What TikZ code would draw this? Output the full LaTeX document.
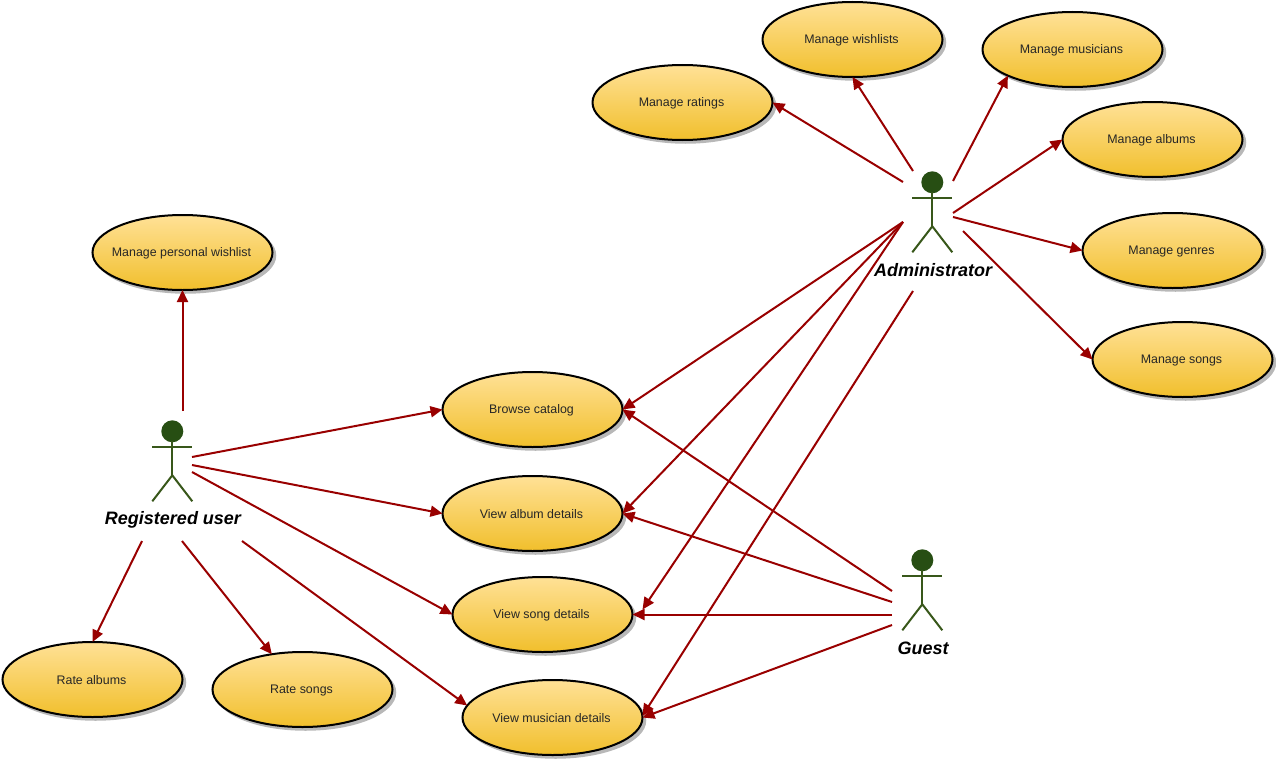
\documentclass[tikz,border=0pt]{standalone}
\usepackage{fontspec}
\setmainfont{Liberation Sans}
\usetikzlibrary{shapes.geometric,arrows.meta}
\definecolor{uctop}{HTML}{FFE196}
\definecolor{ucbot}{HTML}{F1BF2C}
\definecolor{headc}{HTML}{274E13}
\definecolor{bodyc}{HTML}{38571A}
\definecolor{linkc}{HTML}{990000}
\tikzset{
  usecase/.style={ellipse,minimum width=180pt,minimum height=75pt,inner sep=0pt,outer sep=0pt,
    draw=black,line width=2pt,top color=uctop,bottom color=ucbot,shading angle=0},
  uctext/.style={font=\fontsize{12.4}{14}\selectfont,text=black!85,inner sep=0pt},
  shade/.style={ellipse,minimum width=180pt,minimum height=75pt,inner sep=0pt,fill=black!28,draw=black!28,line width=1.5pt},
  link/.style={draw=linkc,line width=2pt,-{Triangle[length=12pt,width=11pt]},shorten >=0pt},
  actorlabel/.style={font=\fontsize{18}{20}\selectfont\bfseries\itshape,text=black,inner sep=0pt},
  limb/.style={draw=bodyc,line width=2pt},
  headdot/.style={circle,fill=headc,minimum size=22pt,inner sep=0pt,draw=none}
}
\newcommand{\usecase}[4]{%
  \node[shade] at (#1+3,#2+3) {};
  \node[usecase] (#3) at (#1,#2) {};
  \node[uctext] (#3text) at (#1-1,#2+1) {#4};}
\newcommand{\actor}[5]{%
  \node[headdot] (#3head) at (#1,#2) {};
  \draw[limb] (#1-20,#2+16) -- (#1+20,#2+16);
  \draw[limb] (#1,#2+10) -- (#1,#2+44);
  \draw[limb] (#1-20,#2+70) -- (#1,#2+44) -- (#1+20,#2+70);
  \node[actorlabel] (#3label) at (#1+0.7,#2+#5) {#4};}
\begin{document}
\begin{tikzpicture}[x=1pt,y=-1pt]
\useasboundingbox (0,0) rectangle (1276,760);
\usecase{682.5}{102.5}{ratings}{Manage ratings}
\usecase{852.5}{39.5}{wishlists}{Manage wishlists}
\usecase{1072.5}{49.5}{musicians}{Manage musicians}
\usecase{1152.5}{139.5}{albums}{Manage albums}
\usecase{1172.5}{250.5}{genres}{Manage genres}
\usecase{1182.5}{359.5}{songs}{Manage songs}
\usecase{182.5}{252.5}{personal}{Manage personal wishlist}
\usecase{532.5}{409.5}{browse}{Browse catalog}
\usecase{532.5}{513.5}{albumd}{View album details}
\usecase{542.5}{614.5}{songd}{View song details}
\usecase{552.5}{717.5}{musiciand}{View musician details}
\usecase{92.5}{679.5}{ratea}{Rate albums}
\usecase{302.5}{689.5}{rates}{Rate songs}
\actor{932.3}{182.3}{admin}{Administrator}{88}
\actor{172.3}{431.3}{reg}{Registered user}{88.5}
\actor{922.3}{560.3}{guest}{Guest}{88}
\coordinate (a1) at (903,182);
\coordinate (a2) at (913,171);
\coordinate (a3) at (953,181);
\coordinate (a4) at (953,213);
\coordinate (a5) at (953,217);
\coordinate (a6) at (963,231);
\coordinate (a7) at (903,222);
\coordinate (a8) at (913,291);
\coordinate (r1) at (182.5,411);
\coordinate (r2) at (192,457);
\coordinate (r3) at (192,465);
\coordinate (r4) at (192,472);
\coordinate (r5) at (142,541);
\coordinate (r6) at (182,541);
\coordinate (r7) at (242,541);
\coordinate (g1) at (892,591);
\coordinate (g2) at (892,602);
\coordinate (g3) at (892,614.5);
\coordinate (g4) at (892,625);
\coordinate (songtip) at ([shift={(10,-5)}]songd.east);
\draw[link] (a1) -- (ratings.east);
\draw[link] (a2) -- (wishlists.south);
\draw[link] (a3) -- (musicians.202);
\draw[link] (a4) -- (albums.west);
\draw[link] (a5) -- (genres.west);
\draw[link] (a6) -- (songs.west);
\draw[link] (a7) -- (browse.east);
\draw[link] (a7) -- (albumd.east);
\draw[link] (a7) -- (songtip);
\draw[link] (a8) -- (musiciand.1);
\draw[link] (r1) -- (personal.south);
\draw[link] (r2) -- (browse.west);
\draw[link] (r3) -- (albumd.west);
\draw[link] (r4) -- (songd.west);
\draw[link] (r5) -- (ratea.north);
\draw[link] (r6) -- (rates.131);
\draw[link] (r7) -- (musiciand.172);
\draw[link] (g1) -- (browse.east);
\draw[link] (g2) -- (albumd.east);
\draw[link] (g3) -- (songd.east);
\draw[link] (g4) -- (musiciand.east);
\end{tikzpicture}
\end{document}
